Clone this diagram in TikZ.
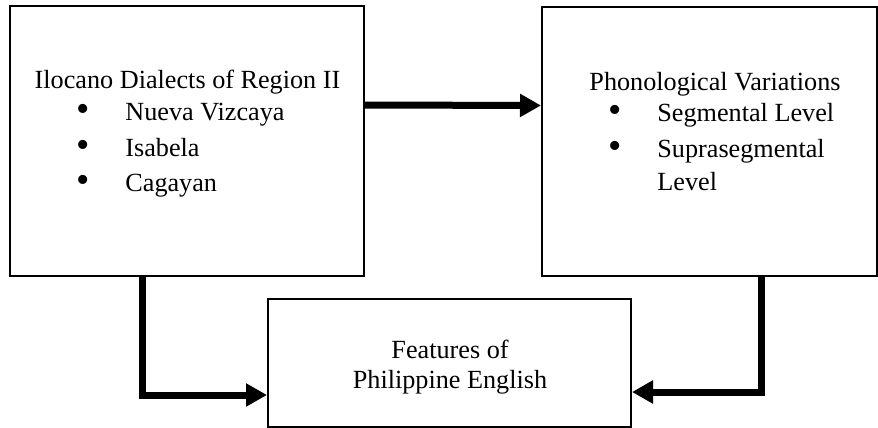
\documentclass[tikz,border=0pt]{standalone}
\usepackage{fontspec}
\setmainfont{Liberation Serif}
\usetikzlibrary{arrows.meta}

\begin{document}
\begin{tikzpicture}
  [x=0.5pt, y=-0.5pt,
   block/.style={draw, line width=1pt, inner sep=0pt},
   flow/.style={line width=3.5pt, -{Triangle[length=10.5pt,width=11pt]}},
   txt/.style={inner sep=0pt, font=\fontsize{13.1}{15}\selectfont},
   dot/.style={inner sep=0pt, font=\fontsize{19}{20}\selectfont}]
  \useasboundingbox (0,0) rectangle (878,428);
  % boxes
  \node[block, minimum width=177pt, minimum height=135pt] (ilocano) at (187,141) {};
  \node[block, minimum width=167.5pt, minimum height=134.5pt] (phono) at (709.5,141.5) {};
  \node[block, minimum width=181.5pt, minimum height=64pt] (features) at (449.5,363) {};
  % texts of the left box
  \node[txt, anchor=base] (iltitle) at (187.5,88) {Ilocano Dialects of Region II};
  \node[dot] (ilb1) at (83,113) {\textbullet};
  \node[txt, anchor=base west] (ilnv) at (125,120) {Nueva Vizcaya};
  \node[dot] (ilb2) at (83,149) {\textbullet};
  \node[txt, anchor=base west] (ilis) at (125,156) {Isabela};
  \node[dot] (ilb3) at (83,184) {\textbullet};
  \node[txt, anchor=base west] (ilca) at (125,191) {Cagayan};
  % texts of the right box
  \node[txt, anchor=base] (phtitle) at (715,90) {Phonological Variations};
  \node[dot] (phb1) at (615,114) {\textbullet};
  \node[txt, anchor=base west] (phseg) at (657,121) {Segmental Level};
  \node[dot] (phb2) at (615,150) {\textbullet};
  \node[txt, anchor=base west] (phsup) at (657,157) {Suprasegmental};
  \node[txt, anchor=base west] (phlev) at (657,190) {Level};
  % texts of the bottom box
  \node[txt, anchor=base] (fe1) at (450,358) {Features of};
  \node[txt, anchor=base] (fe2) at (450,388) {Philippine English};
  % arrows
  \draw[flow] ([yshift=18pt]ilocano.east) -- ([yshift=18pt]phono.west);
  \draw[flow] ([xshift=-22.5pt]ilocano.south) |- ([yshift=-16pt]features.west);
  \draw[flow] ([xshift=25.75pt]phono.south) |- ([yshift=-14.5pt]features.east);
\end{tikzpicture}
\end{document}
